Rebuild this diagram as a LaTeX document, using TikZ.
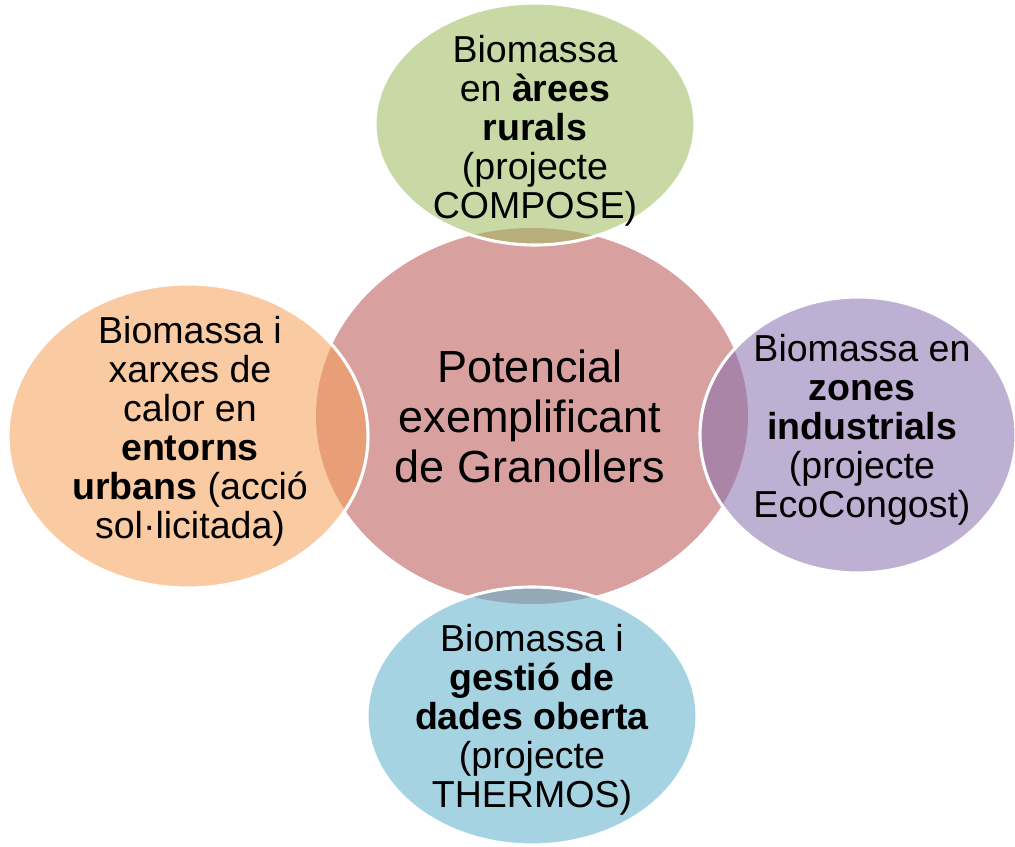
\documentclass[tikz,border=0pt]{standalone}
\usepackage{fontspec}
\setmainfont{Liberation Sans}
\usepackage{tikz}
\usetikzlibrary{positioning}
\definecolor{hubpink}{RGB}{217,160,160}
\definecolor{ruralgreen}{RGB}{157,186,93}
\definecolor{urbanorange}{RGB}{246,159,87}
\definecolor{industrypurple}{RGB}{135,111,175}
\definecolor{datablue}{RGB}{93,175,202}

\begin{document}
\begin{tikzpicture}[x=0.025cm, y=-0.025cm,
  bubble/.style={draw=white, line width=2.2pt, fill opacity=0.55},
  small/.style={align=center, text opacity=1, font=\fontsize{26.7}{27.7}\selectfont},
  big/.style={align=center, font=\fontsize{32}{35.6}\selectfont}]
\useasboundingbox (0,0) rectangle (1015,847);

\fill[hubpink] (532,416) ellipse [x radius=216, y radius=188];

\draw[bubble, fill=ruralgreen] (535,124) ellipse [x radius=160, y radius=121];
\draw[bubble, fill=urbanorange] (188,436) ellipse [x radius=180, y radius=152];
\draw[bubble, fill=industrypurple] (858,435) ellipse [x radius=158, y radius=138];
\draw[bubble, fill=datablue] (532,716) ellipse [x radius=165, y radius=129];

\node[big] (hub) at (530,416) {Potencial\\exemplificant\\de Granollers};
\node[small] (rural) at (535,131) {Biomassa\\en \textbf{àrees}\\\textbf{rurals}\\(projecte\\COMPOSE)};
\node[small] (urban) at (190,431) {Biomassa i\\xarxes de\\calor en\\\textbf{entorns}\\\textbf{urbans} (acció\\sol·licitada)};
\node[small] (industry) at (862,430) {Biomassa en\\\textbf{zones}\\\textbf{industrials}\\(projecte\\EcoCongost)};
\node[small] (data) at (532,720) {Biomassa i\\\textbf{gestió de}\\\textbf{dades oberta}\\(projecte\\THERMOS)};
\end{tikzpicture}
\end{document}
